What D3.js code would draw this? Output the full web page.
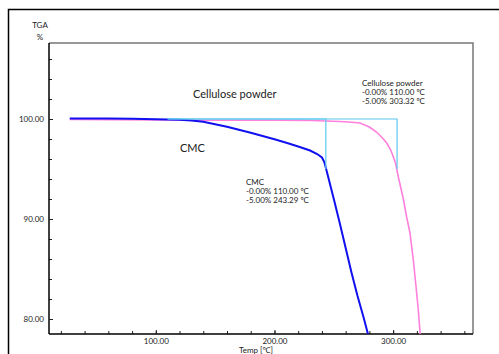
<!DOCTYPE html>
<html>
<head>
<meta charset="utf-8">
<script src="https://cdn.jsdelivr.net/npm/d3@7"></script>
<style>
  body { margin: 0; background: #fff; }
  svg text { font-family: Lato, "Noto Sans", sans-serif; fill: #222; }
</style>
</head>
<body>
<svg id="chart" width="499" height="354"></svg>
<script>
// CMC curve (temperature, weight %)
const cmcTemp = [27.5, 40, 60, 80, 100, 120, 130, 140, 150, 160, 170, 180, 190, 200, 210, 220, 230, 236, 240, 242, 244, 247, 250, 255, 260, 265, 270, 275, 281];
const cmcVal  = [100.05, 100.05, 100.04, 100.02, 99.98, 99.92, 99.84, 99.72, 99.48, 99.22, 98.92, 98.62, 98.3, 97.98, 97.62, 97.25, 96.85, 96.5, 96.15, 95.7, 94.8, 93.4, 92.0, 89.6, 87.1, 84.6, 82.3, 80.2, 77.5];

// Cellulose powder curve
const celTemp = [27.5, 60, 100, 150, 200, 230, 244, 260, 272, 280, 286, 291, 294.6, 298, 300.2, 302, 304.4, 308.6, 311.4, 314.2, 317, 319, 321.2, 322.7, 325];
const celVal  = [99.95, 99.93, 99.9, 99.88, 99.87, 99.85, 99.8, 99.72, 99.6, 99.2, 98.7, 98.1, 97.6, 96.9, 96.2, 95.6, 94.2, 92.0, 90.2, 88.6, 85.9, 83.6, 80.9, 78.6, 75];

// step markers (0.00% at 110 C, -5.00% at onset)
const cmcStep = [[110, 100], [243.29, 100], [243.29, 95]];
const celStep = [[110, 100], [303.32, 100], [303.32, 95]];

const xTicks = [100, 200, 300];
const yTicks = [80, 90, 100];

const cmcNote = ["CMC", "-0.00% 110.00 \u00baC", "-5.00% 243.29 \u00baC"];
const celNote = ["Cellulose powder", "-0.00% 110.00 \u00baC", "-5.00% 303.32 \u00baC"];

const svg = d3.select("#chart");
const mLeft = 49, mRight = 473, mTop = 43, mBottom = 334;

// outer frame (runs off the picture)
svg.append("rect")
  .attr("x", 8.5).attr("y", 9.5).attr("width", 520).attr("height", 420)
  .attr("fill", "none").attr("stroke", "#000").attr("stroke-width", 1.5);

const x = d3.scaleLinear().domain([10, 367.3]).range([mLeft, mRight]);
const y = d3.scaleLinear().domain([78.5, 107.6]).range([mBottom, mTop]);

// box top/right in grey
svg.append("path")
  .attr("d", `M${mLeft},${mTop}H${mRight}V${mBottom}`)
  .attr("fill", "none").attr("stroke", "#777").attr("stroke-width", 1.5);

// minor ticks
const g = svg.append("g");
g.append("g")
  .attr("transform", `translate(0,${mBottom})`)
  .call(d3.axisBottom(x).tickValues(d3.range(20, 367, 20)).tickSize(-3).tickFormat(""))
  .call(a => a.select(".domain").remove());
g.append("g")
  .attr("transform", `translate(${mLeft},0)`)
  .call(d3.axisLeft(y).tickValues(d3.range(80, 107, 2)).tickSize(-3).tickFormat(""))
  .call(a => a.select(".domain").remove());

// major labelled axes
const xa = svg.append("g")
  .attr("transform", `translate(0,${mBottom})`)
  .call(d3.axisBottom(x).tickValues(xTicks).tickSize(-4).tickPadding(4).tickFormat(d3.format(".2f")));
xa.select(".domain").attr("d", `M${mLeft},0H${mRight}`).attr("stroke-width", 1.5);
xa.selectAll("text").attr("font-size", 8);

const ya = svg.append("g")
  .attr("transform", `translate(${mLeft},0)`)
  .call(d3.axisLeft(y).tickValues(yTicks).tickSize(-4).tickPadding(5).tickFormat(d3.format(".2f")));
ya.select(".domain").attr("d", `M0,${mTop}V${mBottom}`).attr("stroke-width", 1.5);
ya.selectAll("text").attr("font-size", 8);
svg.selectAll(".tick line").attr("stroke", "#222");

// axis titles
svg.append("text").attr("x", 40).attr("y", 28).attr("text-anchor", "middle").attr("font-size", 8).text("TGA");
svg.append("text").attr("x", 40).attr("y", 40).attr("text-anchor", "middle").attr("font-size", 8).text("%");
svg.append("text").attr("x", 256).attr("y", 353).attr("text-anchor", "middle").attr("font-size", 8).text("Temp [\u2103]");

// curves
svg.append("clipPath").attr("id", "plot")
  .append("rect").attr("x", mLeft).attr("y", mTop).attr("width", mRight - mLeft).attr("height", mBottom - mTop);

const line = d3.line().x(d => x(d[0])).y(d => y(d[1]));
const plot = svg.append("g").attr("clip-path", "url(#plot)");

plot.append("path").datum(d3.zip(celTemp, celVal))
  .attr("d", line).attr("fill", "none").attr("stroke", "#ff80dc").attr("stroke-width", 1.6);
plot.append("path").datum(d3.zip(cmcTemp, cmcVal))
  .attr("d", line).attr("fill", "none").attr("stroke", "#1010f0").attr("stroke-width", 2);
[cmcStep, celStep].forEach(s => {
  plot.append("path").datum(s)
    .attr("d", line).attr("fill", "none").attr("stroke", "#5cc8f0").attr("stroke-width", 1.2);
});

// labels
svg.append("text").attr("x", 193).attr("y", 98).attr("font-size", 11).text("Cellulose powder");
svg.append("text").attr("x", 180).attr("y", 152).attr("font-size", 11).text("CMC");

function note(lines, x0, y0) {
  const t = svg.append("text").attr("font-size", 8);
  lines.forEach((s, i) => t.append("tspan").attr("x", x0).attr("y", y0 + i * 9.2).text(s));
}
note(celNote, 362, 85.5);
note(cmcNote, 246, 184.5);
</script>
</body>
</html>
